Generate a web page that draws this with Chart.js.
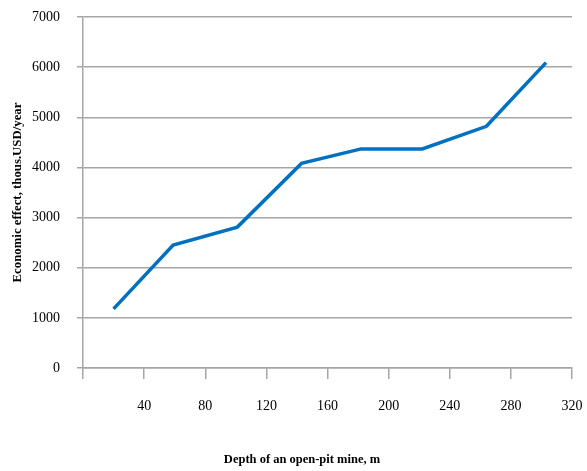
<!DOCTYPE html>
<html lang="en">

<head>
    <meta charset="UTF-8">
    <title>Economic effect vs depth</title>
    <script src="https://cdn.jsdelivr.net/npm/chart.js"></script>
    <style>
        body { margin: 0; background: #fff; }
    </style>
</head>

<body>
    <canvas id="myChart" width="587" height="471"></canvas>
</body>

</html>

<script>
    // depth of the pit, m
    var profundidade = [20, 59, 101, 143, 182, 222, 264, 303]
    // economic effect, thous. USD/year
    var efeito = [1180, 2450, 2810, 4080, 4370, 4370, 4820, 6090]

    var tituloX = 'Depth of an open-pit mine, m'
    var tituloY = 'Economic effect, thous.USD/year'

    var cinza = '#a6a6a6'
    var fonte = "'Liberation Serif', 'Times New Roman', serif"

    let pontos = []
    for (i = 0; i < profundidade.length; i++) {
        pontos.push({ x: profundidade[i], y: efeito[i] })
    }

    // x title sits a bit left of the plot centre, so it is drawn by hand
    const tituloEixoX = {
        id: 'tituloEixoX',
        afterDraw: function (chart) {
            const ctx = chart.ctx
            ctx.save()
            ctx.fillStyle = '#000'
            ctx.font = 'bold 12.5px ' + fonte
            ctx.textAlign = 'center'
            ctx.textBaseline = 'middle'
            ctx.fillText(tituloX, 302, 460)
            ctx.restore()
        }
    }

    const config = {
        type: 'line',
        data: {
            datasets: [{
                data: pontos,
                borderColor: '#0070c0',
                borderWidth: 3.5,
                pointRadius: 0,
                tension: 0,
                fill: false
            }]
        },
        options: {
            responsive: false,
            animation: false,
            layout: { padding: { left: 0, right: 15, top: 17, bottom: 0 } },
            plugins: {
                legend: { display: false },
                tooltip: { enabled: false }
            },
            scales: {
                x: {
                    type: 'linear',
                    min: 0,
                    max: 320,
                    afterFit: function (scale) {
                        scale.height = 103
                        scale.paddingLeft = 0
                        scale.paddingRight = 0
                    },
                    ticks: {
                        stepSize: 40,
                        color: '#000',
                        padding: 19,
                        maxRotation: 0,
                        font: { family: fonte, size: 14 },
                        callback: function (v) { return v === 0 ? '' : String(v) }
                    },
                    grid: {
                        drawOnChartArea: false,
                        drawTicks: true,
                        tickLength: 11,
                        color: cinza,
                        lineWidth: 1.5
                    },
                    border: { display: true, color: cinza, width: 1.5 }
                },
                y: {
                    min: 0,
                    max: 7000,
                    afterFit: function (scale) {
                        scale.width = 83
                        scale.paddingTop = 0
                        scale.paddingBottom = 0
                    },
                    ticks: {
                        stepSize: 1000,
                        color: '#000',
                        padding: 17,
                        font: { family: fonte, size: 14 },
                        callback: function (v) { return String(v) }
                    },
                    grid: {
                        color: cinza,
                        lineWidth: 1.5,
                        tickLength: 6
                    },
                    border: { display: true, color: cinza, width: 1.5 },
                    title: {
                        display: true,
                        text: tituloY,
                        color: '#000',
                        font: { family: fonte, size: 12.8, weight: 'bold' },
                        padding: { top: 10, bottom: 0 }
                    }
                }
            }
        },
        plugins: [tituloEixoX]
    };

    let myChart = new Chart(document.getElementById('myChart'), config);
</script>
